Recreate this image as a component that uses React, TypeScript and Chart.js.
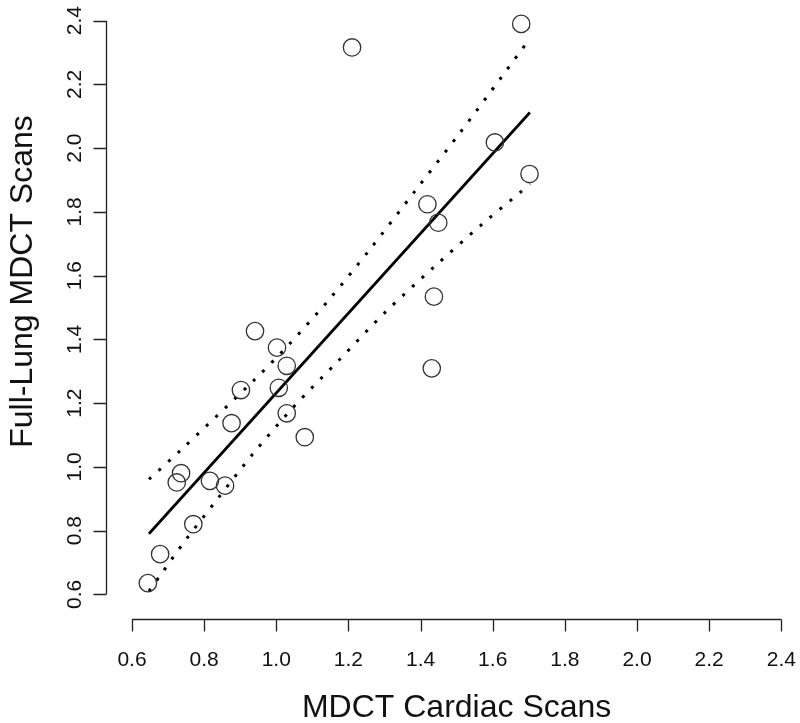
import React, { useEffect, useRef } from "react";
import { Chart, registerables } from "chart.js";

Chart.register(...registerables);

// Observations (x = MDCT cardiac scans, y = full-lung MDCT scans)
const cardiacScans = [
  0.644, 0.678, 0.770, 0.724, 0.736, 0.816, 0.858, 0.876, 0.902, 0.941, 1.002, 1.007,
  1.029, 1.029, 1.079, 1.210, 1.419, 1.449, 1.437, 1.431, 1.606, 1.679, 1.702,
];
const fullLungScans = [
  0.635, 0.726, 0.820, 0.951, 0.980, 0.956, 0.941, 1.137, 1.241, 1.426, 1.374, 1.248,
  1.317, 1.168, 1.093, 2.316, 1.824, 1.766, 1.534, 1.309, 2.018, 2.390, 1.919,
];

// Regression line (solid)
const fitX = [0.647, 1.703];
const fitY = [0.790, 2.112];

// Confidence band (dotted)
const upperX = [0.647, 0.733, 0.941, 1.036, 1.151, 1.260, 1.385, 1.509, 1.623, 1.703];
const upperY = [0.961, 1.050, 1.275, 1.385, 1.531, 1.683, 1.866, 2.048, 2.221, 2.344];
const lowerX = [0.647, 0.687, 0.747, 0.830, 0.934, 1.047, 1.174, 1.301, 1.438, 1.570, 1.678, 1.703];
const lowerY = [0.610, 0.673, 0.768, 0.889, 1.039, 1.187, 1.335, 1.484, 1.628, 1.761, 1.863, 1.888];

// Axis ticks and titles
const xTickLabels = ["0.6", "0.8", "1.0", "1.2", "1.4", "1.6", "1.8", "2.0", "2.2", "2.4"];
const yTickLabels = ["0.6", "0.8", "1.0", "1.2", "1.4", "1.6", "1.8", "2.0", "2.2", "2.4"];
const xTitle = "MDCT Cardiac Scans";
const yTitle = "Full-Lung MDCT Scans";

const FONT = "'Liberation Sans', Arial, Helvetica, sans-serif";

const rAxesPlugin = {
  id: "rAxes",
  afterDraw(chart: any) {
    const ctx: CanvasRenderingContext2D = chart.ctx;
    const xs = chart.scales.x;
    const ys = chart.scales.y;
    const area = chart.chartArea;
    ctx.save();
    ctx.strokeStyle = "#222";
    ctx.fillStyle = "#111";
    ctx.lineWidth = 1.3;

    // X axis
    const xVals = xTickLabels.map(Number);
    const axY = area.bottom + 0.5;
    ctx.beginPath();
    ctx.moveTo(xs.getPixelForValue(xVals[0]), axY);
    ctx.lineTo(xs.getPixelForValue(xVals[xVals.length - 1]), axY);
    xVals.forEach((v) => {
      const p = Math.round(xs.getPixelForValue(v)) + 0.5;
      ctx.moveTo(p, axY);
      ctx.lineTo(p, axY + 12);
    });
    ctx.stroke();
    ctx.font = `21px ${FONT}`;
    ctx.textAlign = "center";
    ctx.textBaseline = "alphabetic";
    xVals.forEach((v, i) => {
      ctx.fillText(xTickLabels[i], xs.getPixelForValue(v), area.bottom + 47);
    });

    // Y axis
    const yVals = yTickLabels.map(Number);
    const axX = area.left + 0.5;
    ctx.beginPath();
    ctx.moveTo(axX, ys.getPixelForValue(yVals[0]));
    ctx.lineTo(axX, ys.getPixelForValue(yVals[yVals.length - 1]));
    yVals.forEach((v) => {
      const p = Math.round(ys.getPixelForValue(v)) + 0.5;
      ctx.moveTo(axX, p);
      ctx.lineTo(axX - 13, p);
    });
    ctx.stroke();
    yVals.forEach((v, i) => {
      ctx.save();
      ctx.translate(area.left - 25, ys.getPixelForValue(v));
      ctx.rotate(-Math.PI / 2);
      ctx.fillText(yTickLabels[i], 0, 0);
      ctx.restore();
    });

    // Titles
    ctx.font = `32px ${FONT}`;
    ctx.fillText(xTitle, xs.getPixelForValue(1.5), 717);
    ctx.save();
    ctx.translate(32, ys.getPixelForValue(1.5) - 26);
    ctx.rotate(-Math.PI / 2);
    ctx.fillText(yTitle, 0, 0);
    ctx.restore();
    ctx.restore();
  },
};

export default function App() {
  const canvasRef = useRef<HTMLCanvasElement | null>(null);

  useEffect(() => {
    const canvas = canvasRef.current;
    if (!canvas) return;
    const toXY = (xa: number[], ya: number[]) => xa.map((x, i) => ({ x, y: ya[i] }));
    const chart = new Chart(canvas, {
      type: "scatter",
      data: {
        datasets: [
          {
            label: "Observations",
            data: toXY(cardiacScans, fullLungScans),
            pointStyle: "circle",
            pointRadius: 8.7,
            pointBorderWidth: 1.3,
            pointBorderColor: "#333",
            pointBackgroundColor: "rgba(0,0,0,0)",
            showLine: false,
            clip: false,
          },
          {
            label: "Fit",
            data: toXY(fitX, fitY),
            showLine: true,
            borderColor: "#000",
            borderWidth: 2.7,
            pointRadius: 0,
            clip: false,
          },
          {
            label: "Upper",
            data: toXY(upperX, upperY),
            showLine: true,
            borderColor: "#000",
            borderWidth: 3,
            borderDash: [3, 10],
            pointRadius: 0,
            tension: 0.3,
            clip: false,
          },
          {
            label: "Lower",
            data: toXY(lowerX, lowerY),
            showLine: true,
            borderColor: "#000",
            borderWidth: 3,
            borderDash: [3, 10],
            pointRadius: 0,
            tension: 0.3,
            clip: false,
          },
        ],
      },
      options: {
        responsive: false,
        animation: false,
        devicePixelRatio: 1,
        layout: { autoPadding: false, padding: { left: 106, right: 0, top: 0, bottom: 104 } },
        plugins: { legend: { display: false }, tooltip: { enabled: false } },
        scales: {
          x: { type: "linear", display: false, min: 0.52792, max: 2.45185 },
          y: { type: "linear", display: false, min: 0.52249, max: 2.46496 },
        },
      },
      plugins: [rAxesPlugin],
    });
    return () => chart.destroy();
  }, []);

  return (
    <div style={{ position: "absolute", left: 0, top: 0, width: 800, height: 723, background: "#fff" }}>
      <canvas ref={canvasRef} width={800} height={723} style={{ display: "block" }} />
    </div>
  );
}
